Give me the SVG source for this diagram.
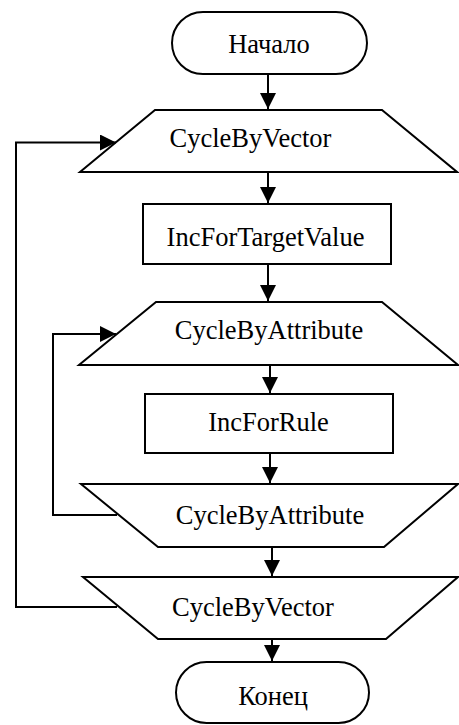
<svg xmlns="http://www.w3.org/2000/svg" width="459" height="725" viewBox="0 0 459 725">
<style>
.s{fill:#fff;stroke:#000;stroke-width:2}
.t{font-size:26.5px;fill:#000;text-anchor:middle}
.c{fill:none;stroke:#000;stroke-width:2}
</style>
<defs>
<marker id="a" markerUnits="userSpaceOnUse" markerWidth="17" markerHeight="16" refX="16" refY="8" orient="auto">
<path d="M0,0 L16,8 L0,16 Z" fill="#000"/>
</marker>
</defs>
<g font-family="Liberation Serif, DejaVu Serif, serif">
<g id="start"><rect class="s" x="172" y="12" width="195" height="62" rx="31" ry="31"/><text class="t" x="269" y="53">Начало</text></g>
<g id="loopVectorStart"><path class="s" d="M155,110 L382,110 L457,172 L80,172 Z"/><text class="t" x="250.5" y="147">CycleByVector</text></g>
<g id="incTarget"><rect class="s" x="143" y="204" width="248" height="60"/><text class="t" x="265.5" y="246">IncForTargetValue</text></g>
<g id="loopAttrStart"><path class="s" d="M156,302 L382,302 L458,365 L79,365 Z"/><text class="t" x="269" y="338.5">CycleByAttribute</text></g>
<g id="incRule"><rect class="s" x="145" y="394" width="248" height="59"/><text class="t" x="268.5" y="431">IncForRule</text></g>
<g id="loopAttrEnd"><path class="s" d="M81,484 L458,484 L384,547 L158,547 Z"/><text class="t" x="270" y="523.5">CycleByAttribute</text></g>
<g id="loopVectorEnd"><path class="s" d="M83,577 L458,577 L386,639 L158,639 Z"/><text class="t" x="253" y="615.5">CycleByVector</text></g>
<g id="end"><rect class="s" x="176" y="662" width="193" height="61" rx="30.5" ry="30.5"/><text class="t" x="273" y="704.5">Конец</text></g>
</g>
<g id="connectors">
<path class="c" d="M268,74 V109" marker-end="url(#a)"/>
<path class="c" d="M268,172 V203" marker-end="url(#a)"/>
<path class="c" d="M268,264 V301" marker-end="url(#a)"/>
<path class="c" d="M270,365 V393" marker-end="url(#a)"/>
<path class="c" d="M270,453 V483" marker-end="url(#a)"/>
<path class="c" d="M272,547 V576" marker-end="url(#a)"/>
<path class="c" d="M272,639 V661" marker-end="url(#a)"/>
<path class="c" d="M117,515 H53 V334 H116" marker-end="url(#a)"/>
<path class="c" d="M117,607 H16 V142.5 H116" marker-end="url(#a)"/>
</g>
</svg>
